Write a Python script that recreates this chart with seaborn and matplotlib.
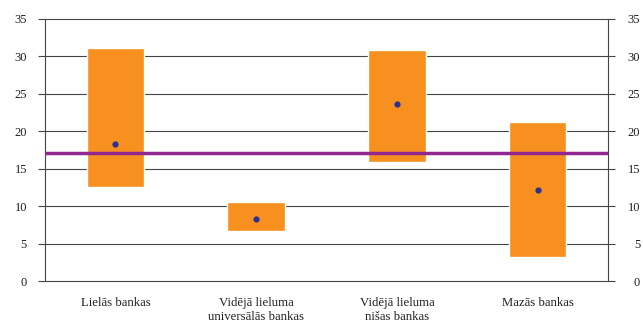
import matplotlib
matplotlib.use("Agg")
import matplotlib.pyplot as plt
import pandas as pd
import seaborn as sns
from matplotlib.transforms import ScaledTranslation

# data
groups = ["Lielās bankas", "Vidējā lieluma\nuniversālās bankas",
          "Vidējā lieluma\nnišas bankas", "Mazās bankas"]
low = [12.5, 6.7, 15.9, 3.2]
high = [31.1, 10.6, 30.9, 21.2]
mid = [18.3, 8.3, 23.6, 12.1]
sector_avg = 17.1

df = pd.DataFrame({"group": groups, "low": low, "high": high, "mid": mid})
df["span"] = df["high"] - df["low"]

sns.set_style("white")
plt.rcParams["font.family"] = ["Liberation Serif", "DejaVu Serif"]

fig = plt.figure(figsize=(6.43, 3.22), dpi=100)
ax = fig.add_axes([0.07, 0.127, 0.8756, 0.814])

# floating range bars
sns.barplot(data=df, x="group", y="span", bottom=df["low"].values,
            color="#F7901E", saturation=1, width=0.41, ax=ax, zorder=2)
# point in each range
sns.stripplot(data=df, x="group", y="mid", jitter=False, color="#2E3192",
              size=4.5, linewidth=0, ax=ax, zorder=4)
ax.axhline(sector_avg, color="#92278F", lw=2.5, zorder=3)

ax.set_ylim(0, 35)
ax.set_xlim(-0.5, 3.5)
ax.set_yticks(range(0, 36, 5))
ax.grid(axis="y", color="#444444", lw=0.8, zorder=0)
ax.set_axisbelow(True)
ax.set_xlabel("")
ax.set_ylabel("")

for s in ["top", "bottom"]:
    ax.spines[s].set_visible(False)
for s in ["left", "right"]:
    ax.spines[s].set_visible(True)
    ax.spines[s].set_color("#444444")
    ax.spines[s].set_linewidth(0.8)

ax.tick_params(axis="y", left=True, right=True, labelleft=True,
               labelright=True, direction="out", length=5, width=0.8,
               color="#444444", labelsize=9, labelcolor="#231F20", pad=8)

# right labels are right-aligned near the figure edge
shift = ScaledTranslation(14 / 100, 0, fig.dpi_scale_trans)
for t in ax.yaxis.get_major_ticks():
    t.label2.set_horizontalalignment("right")
    t.label2.set_transform(t.label2.get_transform() + shift)

ax.tick_params(axis="x", length=0, labelsize=9.2, labelcolor="#231F20", pad=11.5)
for line in ax.get_ygridlines():
    line.set_clip_on(False)

fig.savefig("out.png", dpi=100)
